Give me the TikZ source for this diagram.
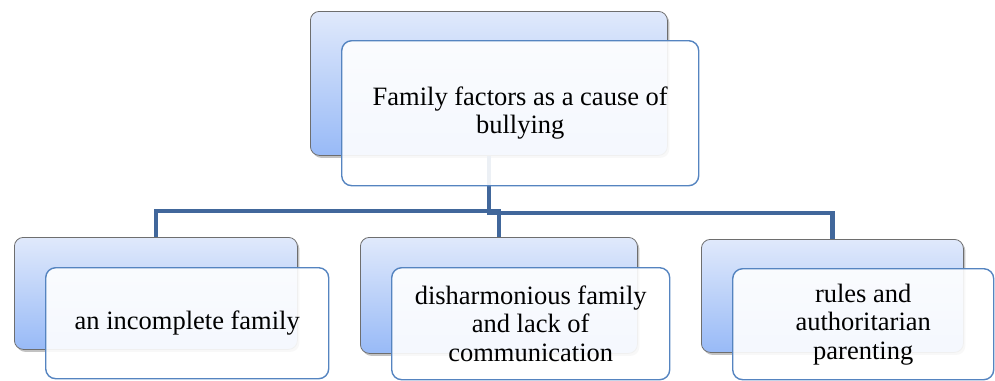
\documentclass[tikz,border=0pt]{standalone}
\usepackage{fontspec}
\setmainfont{Liberation Serif}
\newfontfamily\cardfont{Liberation Serif}
\usetikzlibrary{shadows}
\definecolor{linkblue}{HTML}{41679B}
\definecolor{frameblue}{HTML}{5584C0}
\definecolor{backtop}{HTML}{E0E9FB}
\definecolor{backbot}{HTML}{98BAF7}
\definecolor{backedge}{HTML}{6E6E6E}
\begin{document}
\begin{tikzpicture}[x=1pt,y=-1pt,
  backbox/.style={draw=backedge, line width=0.8pt, rounded corners=9pt,
    top color=backtop, bottom color=backbot, inner sep=0pt, anchor=north west,
    drop shadow={shadow xshift=2pt, shadow yshift=-2.5pt, opacity=0.4, fill=black!60}},
  frontbox/.style={draw=frameblue, line width=1.4pt, rounded corners=10pt,
    fill=white, fill opacity=0.9, text opacity=1, inner sep=0pt, anchor=north west,
    align=center, font=\cardfont\fontsize{26.5}{28.5}\selectfont},
  link/.style={draw=linkblue, line width=4.5pt, line join=miter}]
\useasboundingbox (0,0) rectangle (995,380);

% rear gradient cards
\node[backbox, minimum width=357pt, minimum height=144pt] (pb) at (310,11) {};
\node[backbox, minimum width=283pt, minimum height=112pt] (lb) at (14,237) {};
\node[backbox, minimum width=277pt, minimum height=116pt] (mb) at (360,237) {};
\node[backbox, minimum width=262pt, minimum height=113pt] (rb) at (701,239) {};

% elbow connectors from the root card to each child card
\draw[link] (pb.south) -- ++(0,55) -| (lb.north);
\draw[link] (pb.south) -- ++(0,55) -| (mb.north);
\draw[link] (pb.south) -- ++(0,57) -| (rb.north);

% front text cards
\node[frontbox, minimum width=357pt, minimum height=145pt] (pf) at (341,40)
  {Family factors as a cause of\\bullying};
\node[frontbox, minimum width=283pt, minimum height=111pt] (lf) at (45,267)
  {an incomplete family};
\node[frontbox, minimum width=278pt, minimum height=112pt] (mf) at (391,267)
  {disharmonious family\\and lack of\\communication};
\node[frontbox, minimum width=261pt, minimum height=111pt] (rf) at (732,268)
  {rules and\\authoritarian\\parenting};
\end{tikzpicture}
\end{document}
